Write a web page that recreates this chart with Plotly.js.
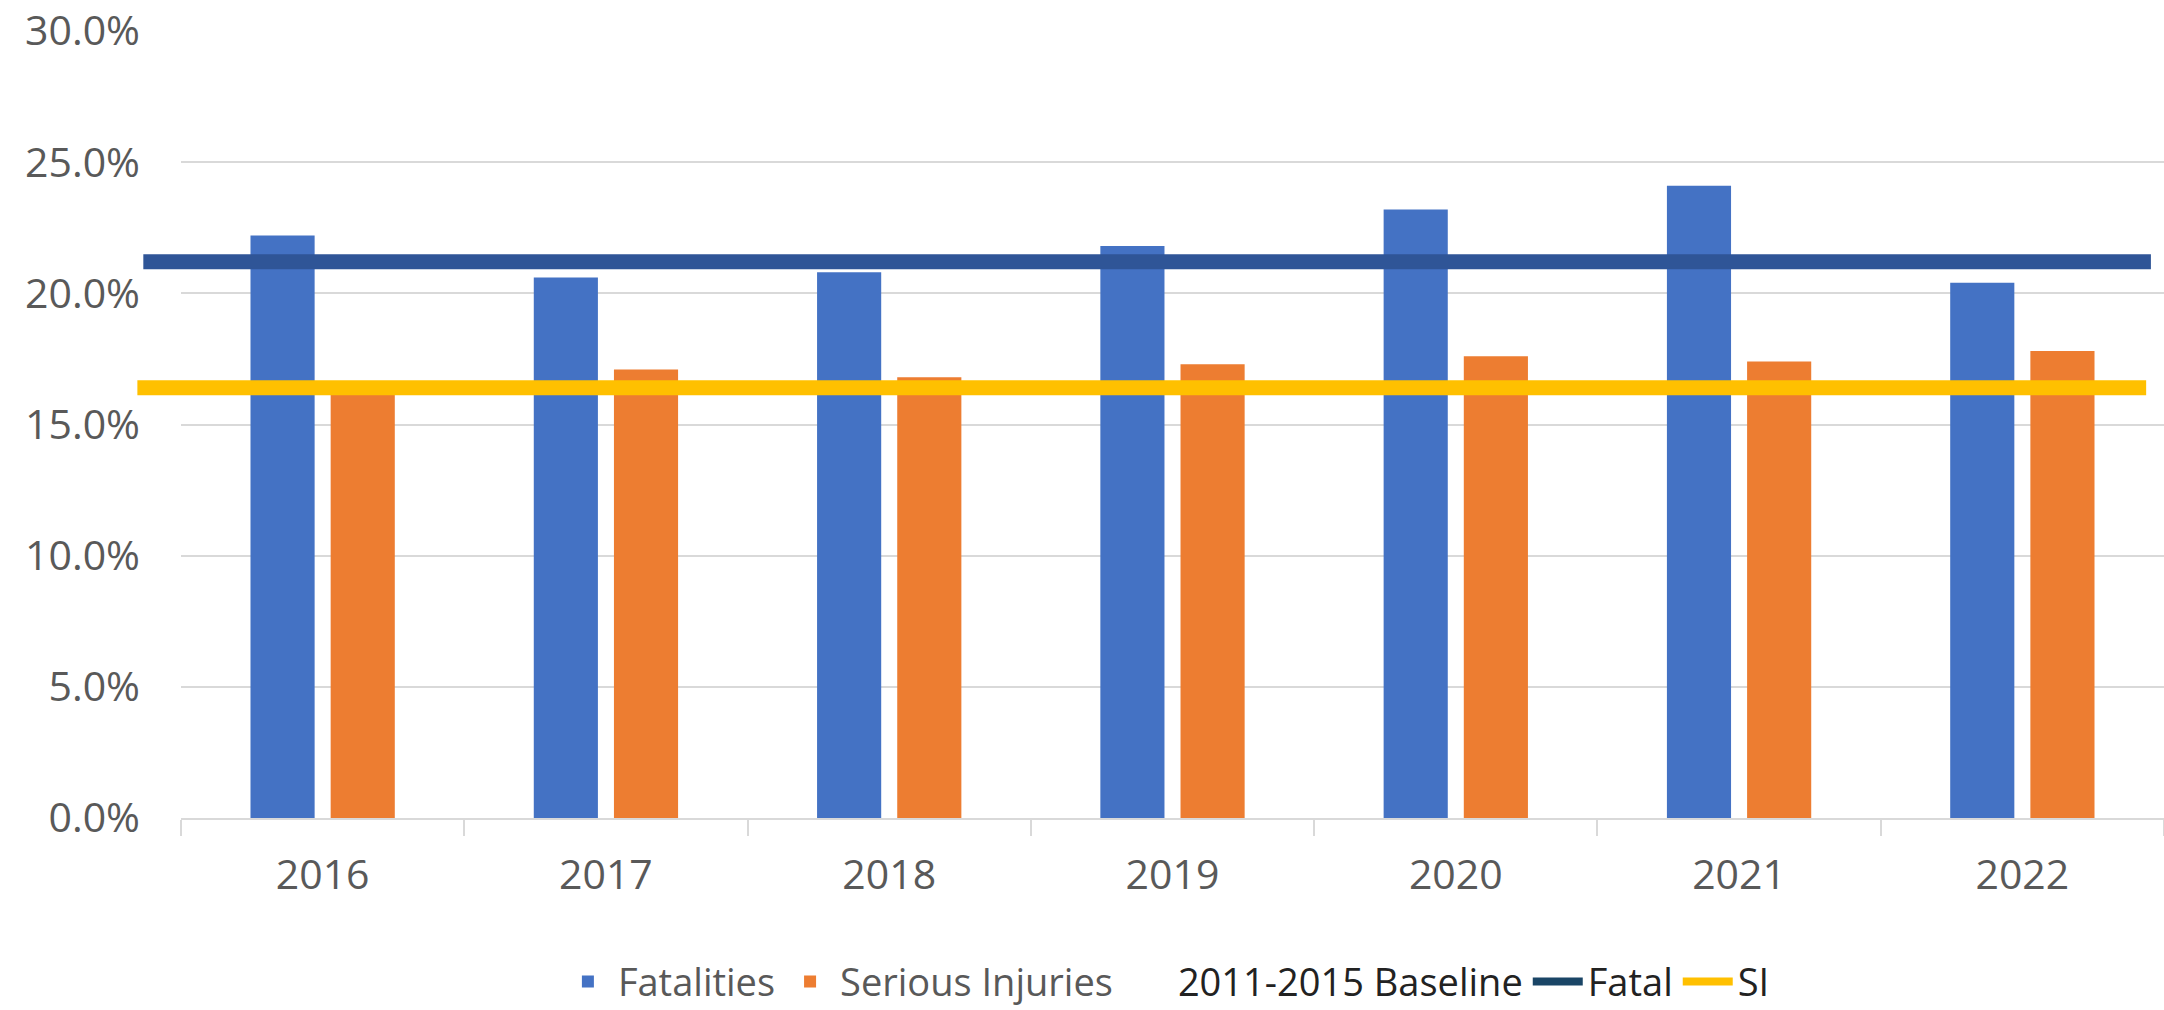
<!DOCTYPE html>
<html>
<head>
<meta charset="utf-8">
<script src="https://cdn.plot.ly/plotly-3.0.1.min.js"></script>
<style>html,body{margin:0;padding:0;background:#fff;}#chart{width:2164px;height:1010px;}</style>
</head>
<body>
<div id="chart"></div>
<script>
const years = ["2016", "2017", "2018", "2019", "2020", "2021", "2022"];
const fatalities = [22.2, 20.6, 20.8, 21.8, 23.2, 24.1, 20.4];
const seriousInjuries = [16.2, 17.1, 16.8, 17.3, 17.6, 17.4, 17.8];
const baselineFatal = 21.2;
const baselineSI = 16.4;
const yTicks = [0, 5, 10, 15, 20, 25, 30];
const yTickText = yTicks.map(v => v.toFixed(1) + "%");

const tickFont = {family: "Open Sans, sans-serif", size: 41, color: "#595959"};

const traces = [
  {type: "bar", name: "Fatalities", x: years, y: fatalities, marker: {color: "#4472C4"}},
  {type: "bar", name: "Serious Injuries", x: years, y: seriousInjuries, marker: {color: "#ED7D31"}},
  {type: "scatter", mode: "lines", name: "<span style='color:#222'>2011-2015 Baseline</span>", x: [years[0]], y: [null], line: {width: 0, color: "rgba(0,0,0,0)"}, hoverinfo: "skip"},
  {type: "scatter", mode: "lines", name: "<span style='color:#222'>Fatal</span>", x: [years[0]], y: [null], line: {width: 8, color: "#1A4566"}, hoverinfo: "skip"},
  {type: "scatter", mode: "lines", name: "<span style='color:#222'>SI</span>", x: [years[0]], y: [null], line: {width: 8, color: "#FFC000"}, hoverinfo: "skip"}
];

const layout = {
  width: 2164, height: 1010,
  margin: {l: 181, r: 0, t: 31, b: 192},
  paper_bgcolor: "#fff", plot_bgcolor: "#fff",
  barmode: "group", bargap: 0.434, bargroupgap: 0.2,
  font: {family: "Open Sans, sans-serif", color: "#595959"},
  xaxis: {
    type: "category", tickfont: tickFont, showgrid: false, automargin: false,
    showline: true, linecolor: "#D9D9D9", linewidth: 2,
    ticks: "outside", tickson: "boundaries", ticklen: 16, tickcolor: "#D9D9D9", tickwidth: 2,
    ticklabelstandoff: 20, ticklabeloverflow: "allow"
  },
  yaxis: {
    range: [0, 30], tickvals: yTicks, ticktext: yTickText, automargin: false,
    tickfont: tickFont, showgrid: true, gridcolor: "#D9D9D9", gridwidth: 2,
    zeroline: false, showline: false, ticks: "", ticklabelstandoff: 40,
    ticklabeloverflow: "allow"
  },
  shapes: [
    {type: "line", xref: "paper", yref: "y", x0: -0.019, x1: 0.9934, y0: baselineFatal, y1: baselineFatal, line: {color: "#2F5597", width: 15}},
    {type: "line", xref: "paper", yref: "y", x0: -0.022, x1: 0.991, y0: baselineSI, y1: baselineSI, line: {color: "#FFC000", width: 15}}
  ],
  legend: {
    orientation: "h", xref: "container", yref: "container",
    x: 0.539, xanchor: "center", y: 0.028, yanchor: "middle",
    font: {family: "Open Sans, sans-serif", size: 38, color: "#595959"},
    traceorder: "normal", itemwidth: 50
  },
  showlegend: true
};

Plotly.newPlot("chart", traces, layout, {displayModeBar: false, staticPlot: true});
</script>
</body>
</html>
